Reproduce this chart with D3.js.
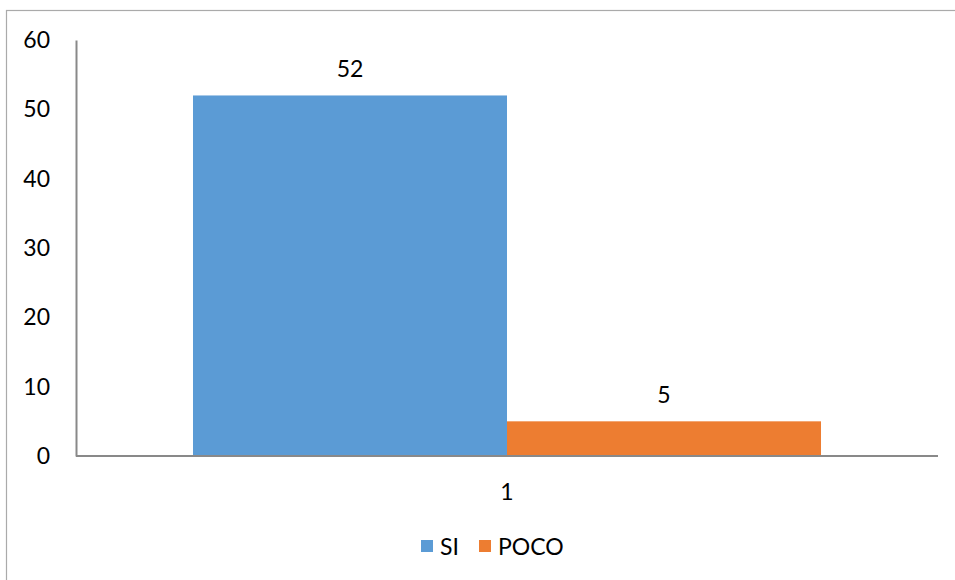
<!DOCTYPE html>
<html><head><meta charset="utf-8">
<script src="https://cdn.jsdelivr.net/npm/d3@7"></script>
<style>body{margin:0;background:#fff}svg{display:block}text{font-family:Lato,"Open Sans",sans-serif;fill:#000}</style>
</head><body><svg id="c" width="955" height="580"></svg>
<script>
const categories = ["1"];
const seriesNames = ["SI", "POCO"];
const seriesValues = [52, 5];
const yTicks = [0, 10, 20, 30, 40, 50, 60];
const colors = ["#5b9bd5", "#ed7d31"];

const FS = 23;
const svg = d3.select("#c");
// outer frame (only left/top visible)
svg.append("rect").attr("x", 6.5).attr("y", 10.5).attr("width", 1000).attr("height", 1000)
  .attr("fill", "none").attr("stroke", "#aaaaaa").attr("stroke-width", 1.2);

const m = {l: 76, r: 938, t: 40, b: 456};
const y = d3.scaleLinear().domain([0, 60]).range([m.b, m.t]);
const x0 = d3.scaleBand().domain(categories).range([m.l, m.r]).paddingInner(0).paddingOuter(0.1863);
const x1 = d3.scaleBand().domain(seriesNames).range([0, x0.bandwidth()]);

const g = svg.append("g");
categories.forEach(c => {
  seriesNames.forEach((s, i) => {
    g.append("rect").attr("x", x0(c) + x1(s)).attr("width", x1.bandwidth())
      .attr("y", y(seriesValues[i])).attr("height", y(0) - y(seriesValues[i]))
      .attr("fill", colors[i]);
    g.append("text").attr("x", x0(c) + x1(s) + x1.bandwidth() / 2).attr("y", y(seriesValues[i]) - 18)
      .attr("text-anchor", "middle").attr("font-size", FS).text(seriesValues[i]);
  });
  g.append("text").attr("x", x0(c) + x0.bandwidth() / 2).attr("y", 500)
    .attr("text-anchor", "middle").attr("font-size", FS).text(c);
});

// axes
const yAxis = d3.axisLeft(y).tickValues(yTicks).tickSize(0).tickPadding(26);
const ya = svg.append("g").attr("transform", `translate(${m.l},0)`).call(yAxis);
ya.select(".domain").attr("stroke", "#898989").attr("stroke-width", 2);
ya.selectAll("text").attr("font-size", FS).attr("font-family", "Lato,'Open Sans',sans-serif").attr("fill", "#000");
svg.append("line").attr("x1", m.l).attr("x2", m.r).attr("y1", y(0)).attr("y2", y(0))
  .attr("stroke", "#898989").attr("stroke-width", 2);

// legend
const leg = svg.append("g");
const lx = [421, 479];
seriesNames.forEach((s, i) => {
  leg.append("rect").attr("x", lx[i]).attr("y", 540).attr("width", 12).attr("height", 12).attr("fill", colors[i]);
  leg.append("text").attr("x", lx[i] + 19).attr("y", 555).attr("font-size", FS).text(s);
});
</script></body></html>
